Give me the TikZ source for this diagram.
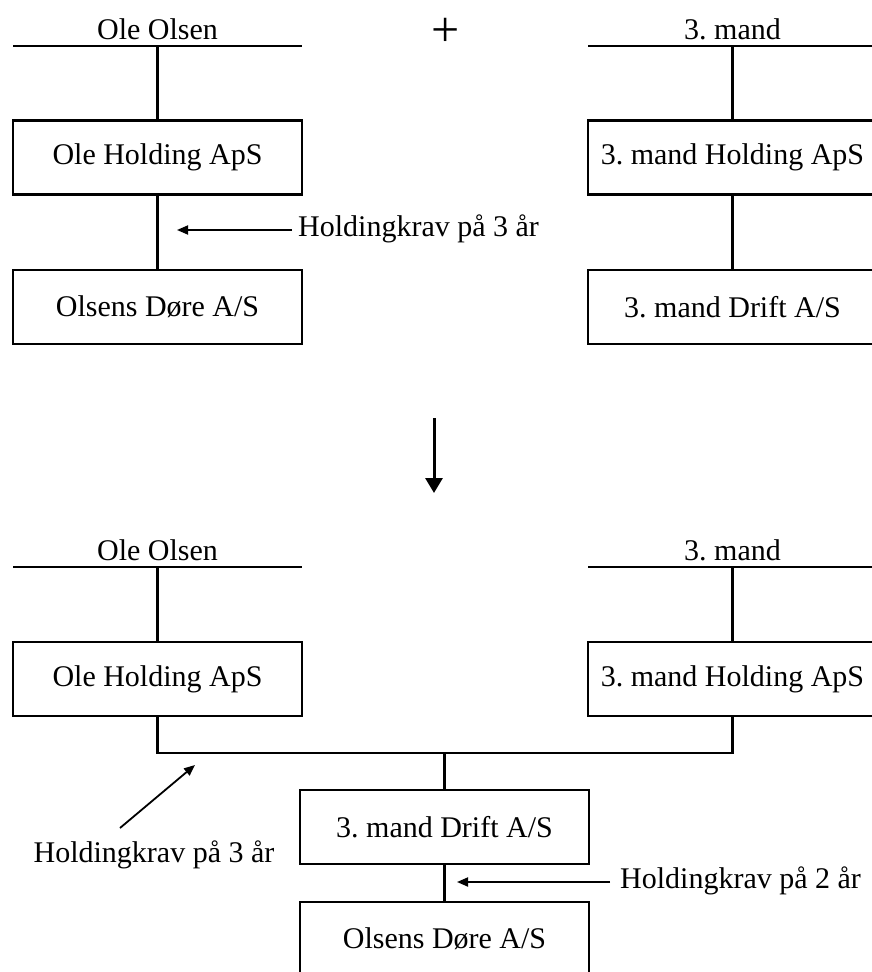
\documentclass[tikz,border=0pt]{standalone}
\usepackage{fontspec}
\setmainfont{Liberation Serif}
\usetikzlibrary{arrows.meta}
\frenchspacing
\tikzset{
  firm/.style={draw, line width=2.3pt, minimum width=289pt, minimum height=74pt,
    inner sep=0pt, font=\fontsize{30}{36}\selectfont},
  owner/.style={inner sep=0pt, font=\fontsize{30}{36}\selectfont},
  note/.style={inner sep=0pt, font=\fontsize{30}{36}\selectfont},
  link/.style={line width=2.3pt},
  pointer/.style={line width=1.8pt, -{Triangle[length=11pt,width=9pt]}},
  bigpointer/.style={line width=3pt, -{Triangle[length=15pt,width=17pt]}},
}
\begin{document}
\begin{tikzpicture}[x=1pt,y=-1pt]
\useasboundingbox (0,0) rectangle (872,972);
\clip (0,0) rectangle (872,972);

% ---------- before: two separate groups ----------
% Ole Olsen group
\coordinate (ooA) at (157.5,46);
\draw[link] ([xshift=-144.5pt]ooA) -- ([xshift=144.5pt]ooA);
\node[owner, anchor=base] (ownerOleA) at ([yshift=7pt]ooA) {Ole Olsen};
\node[firm] (holdOleA) at (157.5,157.5) {Ole Holding ApS};
\node[firm] (doreA) at (157.5,307) {Olsens Døre A/S};
\draw[link] (ooA) -- (holdOleA.north);
\draw[link] (holdOleA.south) -- (doreA.north);
\node[note, anchor=base west] (reqA) at (298,236) {Holdingkrav på 3 år};
\coordinate (reqAtail) at (292,230);
\coordinate (reqAtip) at (177,230);
\draw[pointer] (reqAtail) -- (reqAtip);

% plus sign between the groups
\node[inner sep=0pt, font=\fontsize{50}{50}\selectfont] (plus) at (446,32) {+};

% 3. mand group
\coordinate (tmA) at (732.5,46);
\draw[link] ([xshift=-144.5pt]tmA) -- ([xshift=144.5pt]tmA);
\node[owner, anchor=base] (ownerTmA) at ([yshift=7pt]tmA) {3. mand};
\node[firm] (holdTmA) at (732.5,157.5) {3. mand Holding ApS};
\node[firm] (driftA) at (732.5,307) {3. mand Drift A/S};
\draw[link] (tmA) -- (holdTmA.north);
\draw[link] (holdTmA.south) -- (driftA.north);

% transition arrow
\coordinate (tStart) at (434,418);
\coordinate (tEnd) at (434,493);
\draw[bigpointer] (tStart) -- (tEnd);

% ---------- after: joint ownership ----------
\coordinate (ooB) at (157.5,567);
\draw[link] ([xshift=-144.5pt]ooB) -- ([xshift=144.5pt]ooB);
\node[owner, anchor=base] (ownerOleB) at ([yshift=7pt]ooB) {Ole Olsen};
\node[firm] (holdOleB) at (157.5,679) {Ole Holding ApS};
\draw[link] (ooB) -- (holdOleB.north);

\coordinate (tmB) at (732.5,567);
\draw[link] ([xshift=-144.5pt]tmB) -- ([xshift=144.5pt]tmB);
\node[owner, anchor=base] (ownerTmB) at ([yshift=7pt]tmB) {3. mand};
\node[firm] (holdTmB) at (732.5,679) {3. mand Holding ApS};
\draw[link] (tmB) -- (holdTmB.north);

\node[firm] (driftB) at (444.5,827) {3. mand Drift A/S};
\node[firm] (doreB) at (444.5,939) {Olsens Døre A/S};
\coordinate (join) at (444.5,753);
\draw[link] (holdOleB.south) -- (holdOleB.south |- join) -- (holdTmB.south |- join) -- (holdTmB.south);
\draw[link] (join) -- (driftB.north);
\draw[link] (driftB.south) -- (doreB.north);

% holding requirement notes
\node[note, anchor=base] (reqB) at (154,862) {Holdingkrav på 3 år};
\coordinate (reqBtail) at (120,828);
\coordinate (reqBtip) at (195,765);
\draw[pointer] (reqBtail) -- (reqBtip);

\node[note, anchor=base west] (reqC) at (620,888) {Holdingkrav på 2 år};
\coordinate (reqCtail) at (610,882);
\coordinate (reqCtip) at (457,882);
\draw[pointer] (reqCtail) -- (reqCtip);
\end{tikzpicture}
\end{document}
